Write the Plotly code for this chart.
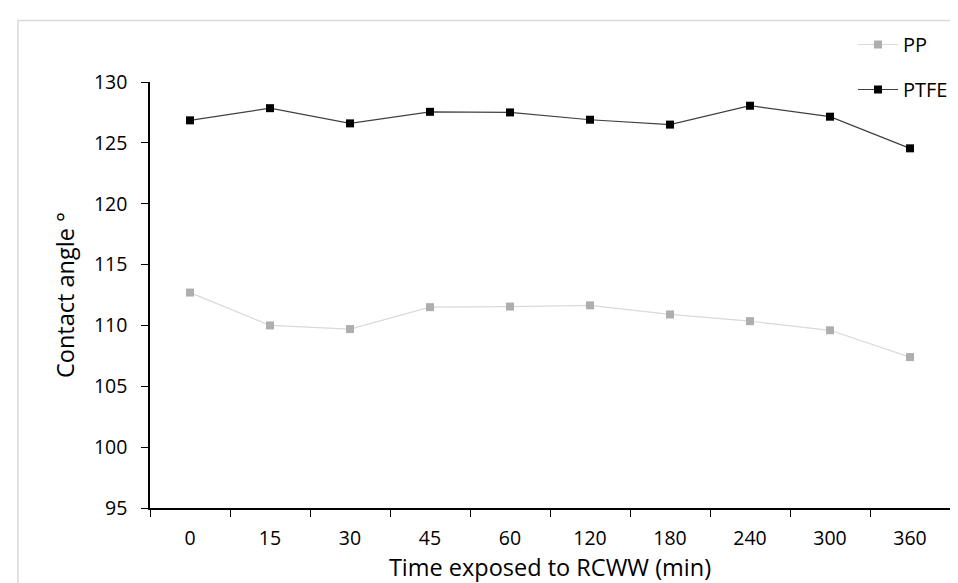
import plotly.graph_objects as go

categories = ["0", "15", "30", "45", "60", "120", "180", "240", "300", "360"]
pp_values = [112.7, 110.0, 109.7, 111.5, 111.55, 111.65, 110.9, 110.35, 109.6, 107.4]
ptfe_values = [126.85, 127.85, 126.6, 127.55, 127.5, 126.9, 126.5, 128.05, 127.15, 124.55]
y_ticks = [95, 100, 105, 110, 115, 120, 125, 130]

FONT = "Open Sans"

fig = go.Figure()
fig.add_trace(go.Scatter(
    x=categories, y=pp_values, name="PP", mode="lines+markers",
    line=dict(color="#d9d9d9", width=1.2),
    marker=dict(symbol="square", size=8, color="#aeaeae"),
    legendgroup="pp",
))
fig.add_trace(go.Scatter(
    x=categories, y=ptfe_values, name="PTFE", mode="lines+markers",
    line=dict(color="#404040", width=1.2),
    marker=dict(symbol="square", size=8, color="#000000"),
    legendgroup="ptfe",
))

W, H = 958, 583
L, R, T, B = 142, 16, 74, 83
pw, ph = W - L - R, H - T - B

def px_x(p):
    return (p - L) / pw

def px_y(p):
    return 1 - (p - T) / ph

fig.update_layout(
    width=W, height=H,
    margin=dict(l=L, r=R, t=T, b=B, autoexpand=False),
    paper_bgcolor="white", plot_bgcolor="white",
    font=dict(family=FONT, size=20, color="#000000"),
    showlegend=True,
    legend=dict(
        x=px_x(845), y=px_y(17), xanchor="left", yanchor="top",
        traceorder="grouped", tracegroupgap=16,
        bgcolor="rgba(0,0,0,0)", font=dict(size=20, family=FONT),
        itemwidth=40,
    ),
    xaxis=dict(
        type="category", categoryorder="array", categoryarray=categories,
        range=[-0.5, 9.5], tickson="boundaries", ticks="outside", ticklen=7,
        tickcolor="#000000", tickwidth=1, ticklabelstandoff=12,
        showline=True, linecolor="#000000", linewidth=1.5,
        showgrid=False, zeroline=False,
        tickfont=dict(size=19.5, family=FONT),
        title=dict(text="Time exposed to RCWW (min)", font=dict(size=23.5, family=FONT), standoff=9),
    ),
    yaxis=dict(
        range=[95, 130], tickvals=y_ticks, ticks="outside", ticklen=7,
        tickcolor="#000000", tickwidth=1, ticklabelstandoff=10,
        showline=True, linecolor="#000000", linewidth=1.5,
        showgrid=False, zeroline=False,
        tickfont=dict(size=19.5, family=FONT),
        title=dict(text="Contact angle °", font=dict(size=23.5, family=FONT), standoff=13),
    ),
    shapes=[dict(
        type="rect", xref="paper", yref="paper",
        x0=px_x(10), x1=px_x(1000), y0=px_y(640), y1=px_y(12.5),
        line=dict(color="#d9d9d9", width=1.5), fillcolor="rgba(0,0,0,0)", layer="below",
    )],
)

fig.write_html("out.html")
